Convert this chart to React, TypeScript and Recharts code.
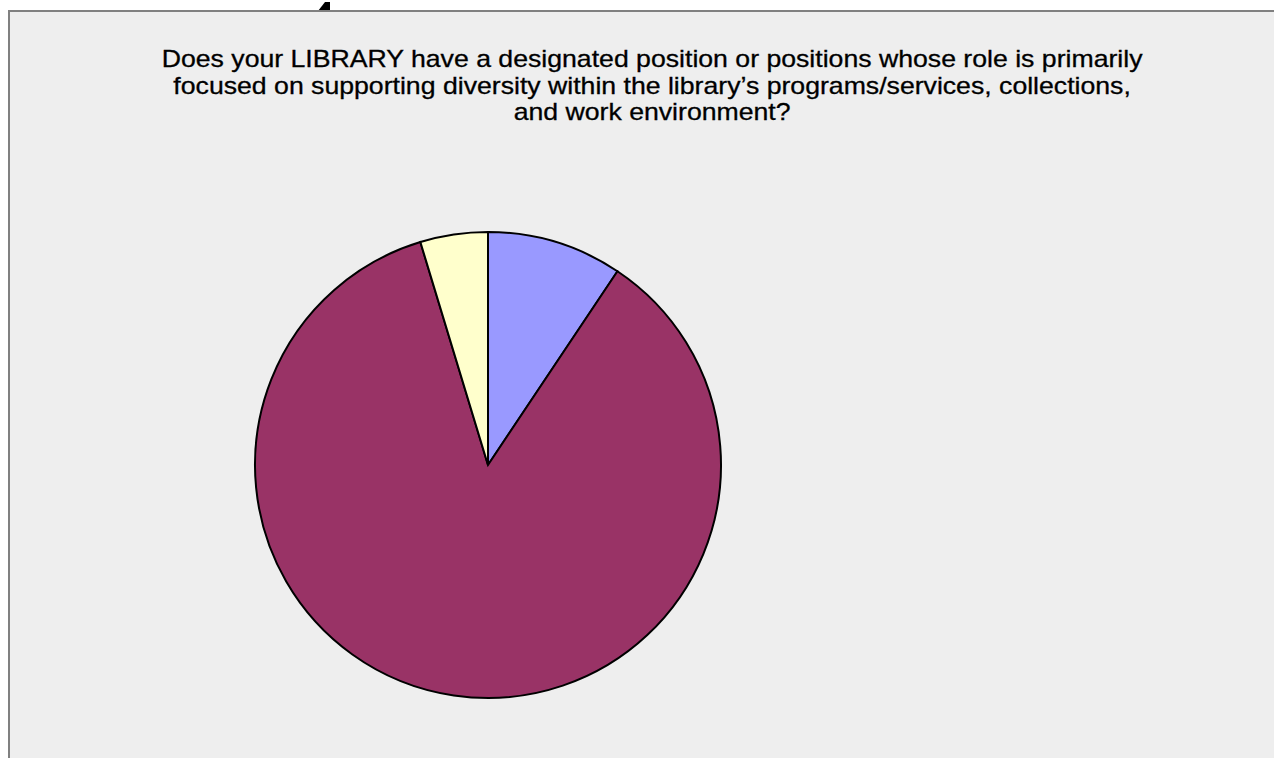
import { PieChart, Pie, Cell } from "recharts";

const categories = ["Yes", "No", "Not sure"];
const counts = [6, 55, 3];
const COLORS = ["#9999FF", "#993366", "#FFFFCC"];

const titleLines = [
  "Does your LIBRARY have a designated position or positions whose role is primarily",
  "focused on supporting diversity within the library\u2019s programs/services, collections,",
  "and work environment?",
];

const data = categories.map((name, i) => ({ name, value: counts[i] }));

export default function App() {
  return (
    <div
      style={{
        position: "fixed",
        left: 0,
        top: 0,
        width: 1274,
        height: 758,
        overflow: "hidden",
        background: "#fff",
      }}
    >
      {/* stray arrow tip above the frame */}
      <svg
        width={20}
        height={12}
        style={{ position: "absolute", left: 315, top: 0 }}
      >
        <polygon points="10,2 15,2 15,11 3,11" fill="#000" />
      </svg>
      <div
        style={{
          position: "absolute",
          left: 8,
          top: 10,
          width: 1300,
          height: 800,
          background: "#eeeeee",
          borderTop: "2px solid #808080",
          borderLeft: "2px solid #808080",
        }}
      >
        <div
          style={{
            position: "absolute",
            left: 0,
            top: 34,
            width: 1284,
            textAlign: "center",
            fontFamily: "'Liberation Sans', Arial, sans-serif",
            fontSize: 24,
            lineHeight: "26.5px",
            color: "#000",
            WebkitTextStroke: "0.3px #000",
            transform: "scaleX(1.11)",
            transformOrigin: "641px 0",
          }}
        >
          {titleLines.map((t, i) => (
            <div key={i}>{t}</div>
          ))}
        </div>
        <PieChart
          width={1264}
          height={746}
          margin={{ top: 0, right: 0, bottom: 0, left: 0 }}
        >
          <Pie
            data={data}
            dataKey="value"
            cx={478}
            cy={453}
            innerRadius={0}
            outerRadius={233}
            startAngle={90}
            endAngle={-270}
            stroke="#000"
            strokeWidth={2}
            isAnimationActive={false}
          >
            {data.map((_, i) => (
              <Cell key={`cell-${i}`} fill={COLORS[i % COLORS.length]} />
            ))}
          </Pie>
        </PieChart>
      </div>
    </div>
  );
}
